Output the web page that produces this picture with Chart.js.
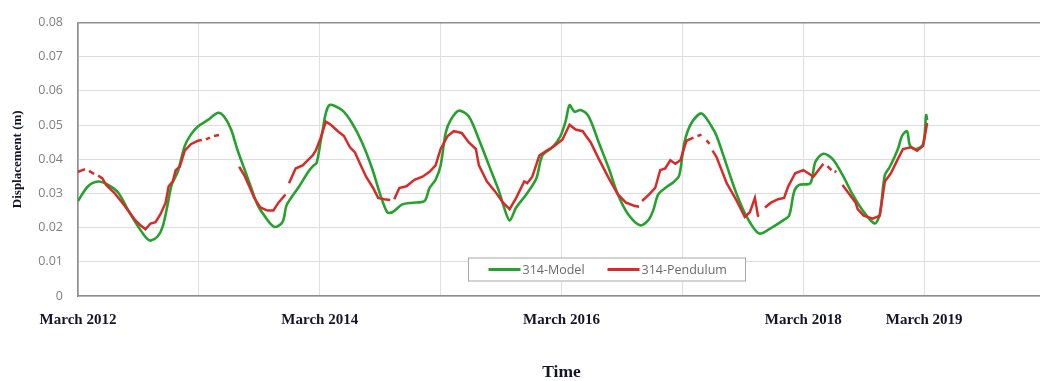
<!DOCTYPE html>
<html>
<head>
<meta charset="utf-8">
<script src="https://cdn.jsdelivr.net/npm/chart.js@4.4.1/dist/chart.umd.min.js"></script>
<style>
  html, body { margin: 0; padding: 0; background: #ffffff; overflow: hidden; }
  #wrap { width: 1060px; height: 381px; }
</style>
</head>
<body>
<div id="wrap"><canvas id="chart" width="1060" height="381"></canvas></div>
<script>
// Months elapsed since March 2012 and displacement (m) for each series.
const modelMonths = [0, 1, 2, 3, 4, 5, 6, 6.8, 7.2, 7.9, 8.4, 8.9, 9.3, 9.9, 10.6, 11.2, 11.9, 12.9, 13.9, 14.5,
  15.2, 15.8, 16.5, 17.2, 17.8, 18.5, 19.5, 20.3, 20.7, 21.3, 21.9, 22.9, 23.4, 23.7, 24.2, 24.9, 26.2, 27.2,
  28.2, 29.2, 30.0, 30.7, 31.2, 32.2, 33.2, 34.4, 34.9, 35.5, 36.0, 36.5, 37.0, 37.8, 38.8, 39.8, 40.8, 41.8,
  42.2, 42.85, 43.5, 44.5, 45.5, 46.1, 47.1, 47.9, 48.4, 48.8, 49.3, 49.9, 50.7, 51.7, 52.7, 53.6, 54.6, 55.8,
  56.6, 57.1, 57.6, 58.3, 59.2, 59.7, 60.2, 60.9, 61.9, 62.9, 63.4, 64.4, 65.4, 66.4, 67.6, 68.7, 70.0, 70.6,
  71.1, 71.6, 72.7, 73.2, 74.0, 74.9, 75.9, 76.9, 77.9, 79.1, 79.6, 80.1, 80.6, 81.4, 81.8, 82.3, 82.6, 83.2,
  83.9, 84.2, 84.3];
const modelValues = [0.0278, 0.0321, 0.0335, 0.0325, 0.0302, 0.0250, 0.0202, 0.0169, 0.0162, 0.0174, 0.0202,
  0.0268, 0.0325, 0.0363, 0.0439, 0.0472, 0.0496, 0.0515, 0.0536, 0.0525, 0.0487, 0.0430, 0.0373, 0.0316, 0.0268,
  0.0235, 0.0202, 0.0216, 0.0265, 0.0293, 0.0318, 0.0365, 0.0382, 0.0390, 0.0470, 0.0557, 0.0544, 0.0506, 0.0449,
  0.0373, 0.0297, 0.0245, 0.0245, 0.0268, 0.0273, 0.0278, 0.0316, 0.0340, 0.0382, 0.0477, 0.0515, 0.0542, 0.0525,
  0.0458, 0.0382, 0.0306, 0.0268, 0.0221, 0.0259, 0.0297, 0.0344, 0.0411, 0.0435, 0.0468, 0.0510, 0.0558, 0.0539,
  0.0544, 0.0525, 0.0449, 0.0373, 0.0297, 0.0240, 0.0207, 0.0221, 0.0250, 0.0297, 0.0316, 0.0335, 0.0354, 0.0449,
  0.0506, 0.0534, 0.0496, 0.0468, 0.0382, 0.0297, 0.0231, 0.0183, 0.0197, 0.0221, 0.0235, 0.0306, 0.0325, 0.0330,
  0.0392, 0.0416, 0.0401, 0.0354, 0.0297, 0.0250, 0.0212, 0.0240, 0.0354, 0.0378, 0.0430, 0.0468, 0.0482, 0.0440,
  0.0430, 0.0444, 0.0529, 0.0515];

// Pendulum readings; null marks months with missing readings.
const pendulumMonths = [0, 0.7, 0.9, 1.1, 1.6, 1.8, 2.0, 2.4, 2.8, 3.6, 4.4, 5.1, 5.7, 6.2, 6.7, 7.2, 7.7, 8.2, 8.7,
  9.0, 9.4, 9.7, 10.1, 10.6, 11.2, 11.9, 12.3, 12.5, 12.7, 13.1, 13.3, 13.5, 14.0, 14.1, 16.0, 16.5, 17.0, 17.5,
  18.1, 18.8, 19.4, 19.9, 20.6, 20.75, 20.95, 21.6, 22.3, 22.8, 23.3, 23.6, 24.1, 24.6, 25.1, 25.8, 26.4, 27.0,
  27.5, 28.0, 28.6, 29.3, 29.8, 30.4, 31.0, 31.15, 31.4, 31.9, 32.6, 33.4, 34.2, 34.9, 35.5, 36.0, 36.7, 37.3,
  38.1, 38.8, 39.5, 39.8, 40.6, 41.4, 42.2, 42.85, 43.5, 44.3, 44.6, 45.1, 45.8, 46.5, 47.3, 48.1, 48.8, 49.4,
  50.1, 50.9, 51.7, 52.7, 53.6, 54.4, 55.2, 55.7, 55.85, 56.0, 56.7, 57.3, 57.8, 58.3, 58.8, 59.3, 59.8, 60.4,
  61.1, 61.3, 61.5, 61.9, 62.1, 62.4, 62.7, 62.85, 63.0, 63.4, 64.4, 65.4, 66.2, 66.7, 67.2, 67.5, 67.6, 67.8,
  68.2, 68.8, 69.5, 70.1, 70.5, 71.2, 72.0, 72.5, 73.0, 73.5, 74.0, 74.15, 74.4, 74.8, 74.95, 75.1, 75.3, 75.5,
  75.9, 76.6, 77.2, 77.4, 78.0, 78.9, 79.6, 80.1, 80.7, 81.4, 81.9, 82.7, 83.3, 83.9, 84.3];
const pendulumValues = [0.0363, 0.0371, null, 0.0366, 0.0357, null, 0.0352, 0.0345, 0.0325, 0.0302, 0.0273,
  0.0245, 0.0221, 0.0207, 0.0195, 0.0212, 0.0216, 0.0240, 0.0273, 0.0321, 0.0335, 0.0368, 0.0378, 0.0425, 0.0444,
  0.0454, 0.0456, null, 0.0458, 0.0463, null, 0.0468, 0.0471, null, 0.0378, 0.0354, 0.0321, 0.0287, 0.0259,
  0.0250, 0.0250, 0.0273, 0.0297, null, 0.0330, 0.0373, 0.0382, 0.0397, 0.0411, 0.0425, 0.0463, 0.0510, 0.0501,
  0.0482, 0.0468, 0.0435, 0.0420, 0.0387, 0.0349, 0.0316, 0.0287, 0.0283, 0.0281, null, 0.0283, 0.0316, 0.0321,
  0.0340, 0.0349, 0.0363, 0.0382, 0.0430, 0.0468, 0.0482, 0.0477, 0.0449, 0.0430, 0.0382, 0.0335, 0.0306, 0.0273,
  0.0254, 0.0287, 0.0335, 0.0330, 0.0349, 0.0411, 0.0425, 0.0439, 0.0458, 0.0501, 0.0487, 0.0482, 0.0449, 0.0401,
  0.0344, 0.0297, 0.0273, 0.0264, 0.0261, null, 0.0278, 0.0297, 0.0316, 0.0368, 0.0373, 0.0397, 0.0387, 0.0397,
  0.0454, 0.0463, null, 0.0468, 0.0472, null, 0.0455, 0.0445, null, 0.0425, 0.0406, 0.0330, 0.0278, 0.0231,
  0.0245, 0.0287, 0.0235, 0.0232, null, 0.0259, 0.0273, 0.0283, 0.0287, 0.0320, 0.0359, 0.0368, 0.0359, 0.0349,
  0.0368, 0.0387, null, 0.0380, 0.0368, null, 0.0365, 0.0363, null, 0.0325, 0.0297, 0.0273, 0.0254, 0.0235,
  0.0226, 0.0235, 0.0335, 0.0359, 0.0401, 0.0430, 0.0435, 0.0425, 0.0439, 0.0506];

// Axis ticks: one gridline per year, labels on selected Marches.
const labelMonths = [0, 24, 48, 72, 84];
const labelTexts = ['March 2012', 'March 2014', 'March 2016', 'March 2018', 'March 2019'];
const seriesNames = ['314-Model', '314-Pendulum'];

const toPoints = (xs, ys) => xs.map((x, i) => ({ x: x, y: ys[i] }));

const GREEN = '#25a22d';
const RED = '#d92a2a';
const FRAME = '#8e8e8e';
const SERIF = '"Liberation Serif", "Times New Roman", serif';

// Boxed legend drawn inside the plot area.
const insideLegend = {
  id: 'insideLegend',
  afterDraw(chart) {
    const { ctx, chartArea } = chart;
    const left = chartArea.left + 390.5;
    const top = chartArea.top + 235.5;
    const w = 277, h = 23;
    ctx.save();
    ctx.fillStyle = '#ffffff';
    ctx.fillRect(left, top, w, h);
    ctx.strokeStyle = '#a8a8a8';
    ctx.lineWidth = 1;
    ctx.strokeRect(left, top, w, h);
    const midY = top + h / 2;
    const items = [
      { ds: chart.data.datasets[0], lx: 20, tx: 54 },
      { ds: chart.data.datasets[1], lx: 139, tx: 173 }
    ];
    ctx.font = '12.5px "Open Sans", sans-serif';
    ctx.textBaseline = 'middle';
    ctx.textAlign = 'left';
    items.forEach(it => {
      ctx.strokeStyle = it.ds.borderColor;
      ctx.lineWidth = 3;
      ctx.beginPath();
      ctx.moveTo(left + it.lx, midY);
      ctx.lineTo(left + it.lx + 32, midY);
      ctx.stroke();
      ctx.fillStyle = '#6a6a6a';
      ctx.fillText(it.ds.label, left + it.tx, midY + 0.5);
    });
    ctx.restore();
  }
};

new Chart(document.getElementById('chart'), {
  type: 'line',
  data: {
    datasets: [
      {
        label: seriesNames[0],
        data: toPoints(modelMonths, modelValues),
        borderColor: GREEN,
        backgroundColor: GREEN,
        borderWidth: 2.6,
        pointRadius: 0,
        tension: 0.3,
        order: 2
      },
      {
        label: seriesNames[1],
        data: toPoints(pendulumMonths, pendulumValues),
        borderColor: RED,
        backgroundColor: RED,
        borderWidth: 2.5,
        pointRadius: 0,
        tension: 0,
        spanGaps: false,
        order: 1
      }
    ]
  },
  options: {
    responsive: false,
    animation: false,
    layout: { padding: { left: 0, top: 15, right: 10.5, bottom: 0 } },
    plugins: {
      legend: { display: false },
      tooltip: { enabled: false }
    },
    scales: {
      x: {
        type: 'linear',
        min: 0,
        max: 96,
        afterFit: s => { s.height = 85; },
        grid: { color: '#e0e0e0', lineWidth: 1, drawTicks: false },
        border: { color: FRAME, width: 1.6 },
        ticks: {
          stepSize: 12,
          autoSkip: false,
          maxRotation: 0,
          padding: 15,
          color: '#15152a',
          font: { family: SERIF, size: 15, weight: 'bold' },
          callback: v => {
            const i = labelMonths.indexOf(v);
            return i >= 0 ? labelTexts[i] : '';
          }
        },
        title: {
          display: true,
          text: 'Time',
          color: '#15152a',
          padding: { top: 0, bottom: 0 },
          font: { family: SERIF, size: 17.5, weight: 'bold', lineHeight: 1 }
        }
      },
      y: {
        min: 0,
        max: 0.08,
        afterFit: s => { s.width = 78; },
        grid: {
          drawTicks: false,
          color: c => (Math.abs(c.tick.value - 0.08) < 1e-9 ? FRAME : '#dcdcdc'),
          lineWidth: c => (Math.abs(c.tick.value - 0.08) < 1e-9 ? 1.6 : 1)
        },
        border: { color: FRAME, width: 1.6 },
        ticks: {
          stepSize: 0.01,
          padding: 15,
          color: '#808080',
          font: { family: '"Open Sans", sans-serif', size: 12.5 },
          callback: v => (Math.abs(v) < 1e-9 ? '0' : v.toFixed(2))
        },
        title: {
          display: true,
          text: 'Displacement (m)',
          color: '#15152a',
          padding: { top: 10, bottom: 0 },
          font: { family: SERIF, size: 13, weight: 'bold' }
        }
      }
    }
  },
  plugins: [insideLegend]
});
</script>
</body>
</html>
